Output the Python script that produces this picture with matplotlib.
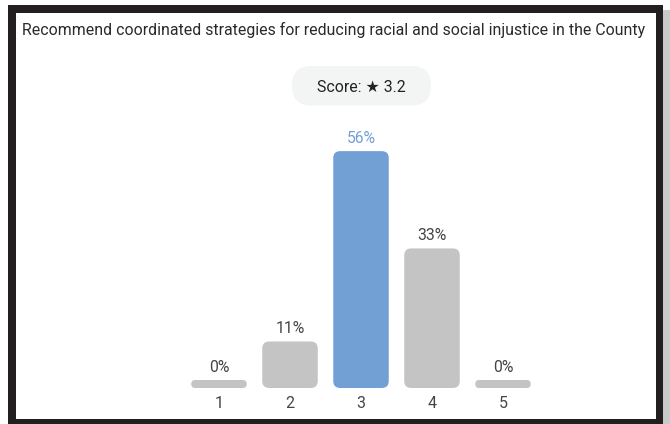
import matplotlib
matplotlib.use("Agg")
import matplotlib.pyplot as plt
from matplotlib.patches import FancyBboxPatch, Rectangle

# ---- data ----
title = "Recommend coordinated strategies for reducing racial and social injustice in the County"
categories = ["1", "2", "3", "4", "5"]
values = [0, 11, 56, 33, 0]
score_text = "Score: \u2605 3.2"
highlight_index = 2

W, H = 670, 424
fig = plt.figure(figsize=(W / 100, H / 100), dpi=100)
fig.patch.set_facecolor("white")

def fx(px):
    return px / W

def fy(py):
    return 1 - py / H

FONT = ["Roboto", "DejaVu Sans"]

# frame (dark border with light shadow)
bg = fig.add_axes([0, 0, 1, 1])
bg.set_xlim(0, W)
bg.set_ylim(H, 0)
bg.axis("off")
bg.add_patch(Rectangle((663, 10), 7, H, facecolor="#c9c9c9", edgecolor="none"))
bg.add_patch(Rectangle((8, 5), 655, H, facecolor="#231f20", edgecolor="none"))
bg.add_patch(Rectangle((16, 13), 640, 406, facecolor="white", edgecolor="none"))

# score pill
bg.add_patch(FancyBboxPatch((292, 66), 139, 39.5,
                            boxstyle="round,pad=0,rounding_size=19.5",
                            facecolor="#f3f4f4", edgecolor="none"))
bg.text(361.5, 87, score_text, ha="center", va="center", fontsize=11.4,
        color="#222222", family=FONT)

# title
bg.text(22, 30, title, ha="left", va="center", fontsize=11.4,
        color="#2a2a2a", family=FONT)

# bar axes: x = 1..5 centred at 219..503 px, y=0 at 388 px, 4.23 px per %
px_per_x = 71.0
px_per_y = 4.23
x0_px = 219 - 0.5 * px_per_x
ymax = 60
ax_left = x0_px
ax_w = 5 * px_per_x
ax_bottom_px = 388
ax_h = ymax * px_per_y
ax = fig.add_axes([fx(ax_left), fy(ax_bottom_px), ax_w / W, ax_h / H])
ax.set_xlim(0.5, 5.5)
ax.set_ylim(0, ymax)
ax.axis("off")

bar_w = 55.5 / px_per_x
radius_px = 7.0
stub_px = 8.0
aspect = px_per_x / px_per_y
for i, (cat, v) in enumerate(zip(categories, values)):
    x = i + 1
    color = "#729fd4" if i == highlight_index else "#c4c4c4"
    h = v if v > 0 else stub_px / px_per_y
    r = radius_px if v > 0 else stub_px / 2
    ax.add_patch(FancyBboxPatch((x - bar_w / 2, 0), bar_w, h,
                                boxstyle=f"round,pad=0,rounding_size={r / px_per_x}",
                                mutation_aspect=aspect,
                                facecolor=color, edgecolor="none"))
    lab_color = "#729fd4" if i == highlight_index else "#444444"
    ax.text(x, h + 12.5 / px_per_y, f"{v}%", ha="center", va="center",
            fontsize=11.3, color=lab_color, family=FONT)
    ax.text(x, -15 / px_per_y, cat, ha="center", va="center", fontsize=11.5,
            color="#444444", family=FONT, clip_on=False)

fig.savefig("out.png", dpi=100)
